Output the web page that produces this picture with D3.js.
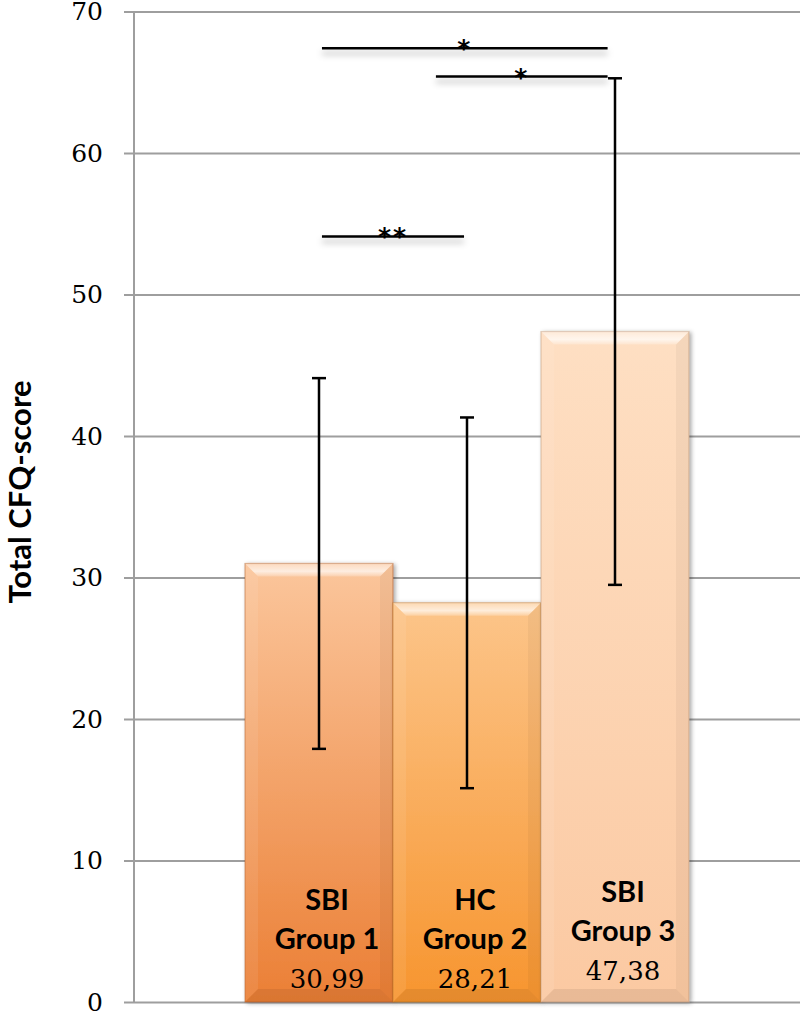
<!DOCTYPE html>
<html>
<head>
<meta charset="utf-8">
<script src="https://cdn.jsdelivr.net/npm/d3@7"></script>
<style>
  body { margin: 0; background: #ffffff; }
  svg { display: block; }
</style>
</head>
<body>
<svg id="chart" width="800" height="1013"></svg>
<script>
// data
const groups = ['SBI Group 1', 'HC Group 2', 'SBI Group 3'];
const labelTop = ['SBI', 'HC', 'SBI'];
const labelBottom = ['Group 1', 'Group 2', 'Group 3'];
const means = [30.99, 28.21, 47.38];
const sds = [13.1, 13.1, 17.9];
const yTicks = [0, 10, 20, 30, 40, 50, 60, 70];
// significance brackets: from / to in bar-index units, level, stars
const sigFrom = [0.02, 0.79, 0.02];
const sigTo = [1.95, 1.95, 0.98];
const sigLevel = [67.4, 65.4, 54.1];
const sigText = ['*', '*', '**'];

const width = 800;
const colors = [
  { top: '#fbc69c', bottom: '#eb7f35' },
  { top: '#fcc58a', bottom: '#f7952f' },
  { top: '#fedfc3', bottom: '#fbc9a2' },
];

const svg = d3.select('#chart');
const defs = svg.append('defs');

const y = d3.scaleLinear().domain([0, 70]).range([1002, 11.5]);
const x = d3.scaleBand().domain(groups).range([245, 689]).padding(0);
const xi = d3.scaleLinear().domain([0, 2]).range([x(groups[0]) + x.bandwidth() / 2, x(groups[2]) + x.bandwidth() / 2]);

colors.forEach((c, i) => {
  const g = defs.append('linearGradient')
    .attr('id', `grad${i}`)
    .attr('x1', 0).attr('y1', 0).attr('x2', 0).attr('y2', 1);
  g.append('stop').attr('offset', '0%').attr('stop-color', c.top);
  g.append('stop').attr('offset', '100%').attr('stop-color', c.bottom);
});

const topBevel = defs.append('linearGradient')
  .attr('id', 'topBevel')
  .attr('x1', 0).attr('y1', 0).attr('x2', 0).attr('y2', 1);
topBevel.append('stop').attr('offset', '0%').attr('stop-color', '#fff').attr('stop-opacity', 0.35);
topBevel.append('stop').attr('offset', '60%').attr('stop-color', '#fff').attr('stop-opacity', 0.7);
topBevel.append('stop').attr('offset', '100%').attr('stop-color', '#fff').attr('stop-opacity', 0.2);

const barShadow = defs.append('filter').attr('id', 'barShadow')
  .attr('x', '-10%').attr('y', '-10%').attr('width', '130%').attr('height', '130%');
barShadow.append('feDropShadow')
  .attr('dx', 2).attr('dy', 1).attr('stdDeviation', 2)
  .attr('flood-color', '#000').attr('flood-opacity', 0.35);

// a horizontal line has no height, so the shadow filter works in user space
const lineShadow = defs.append('filter').attr('id', 'lineShadow')
  .attr('filterUnits', 'userSpaceOnUse')
  .attr('x', 0).attr('y', 0).attr('width', 800).attr('height', 1013);
lineShadow.append('feDropShadow')
  .attr('dx', 0).attr('dy', 5).attr('stdDeviation', 3)
  .attr('flood-color', '#000').attr('flood-opacity', 0.3);

// gridlines + tick labels
const yAxis = svg.append('g')
  .attr('class', 'yAxis')
  .attr('transform', `translate(${width},0)`)
  .call(d3.axisLeft(y).tickValues(yTicks).tickSize(width - 124).tickPadding(21));
yAxis.select('.domain').remove();
yAxis.selectAll('.tick line')
  .attr('stroke', '#9e9e9e')
  .attr('stroke-width', 2);
yAxis.selectAll('.tick text')
  .attr('fill', '#000')
  .style('font-family', '"DejaVu Serif", serif')
  .style('font-size', '25px');

svg.append('line')
  .attr('x1', 134).attr('x2', 134)
  .attr('y1', y(70)).attr('y2', y(0))
  .attr('stroke', '#9e9e9e')
  .attr('stroke-width', 2);

svg.append('text')
  .attr('transform', 'translate(31,492) rotate(-90)')
  .attr('text-anchor', 'middle')
  .style('font-family', 'Lato, "Open Sans", sans-serif')
  .style('font-weight', 'bold')
  .style('font-size', '31px')
  .text('Total CFQ-score');

// bars with bevel
const bev = 13;
const bars = svg.append('g').selectAll('g.bar')
  .data(groups)
  .join('g')
  .attr('class', 'bar');

bars.each(function (d, i) {
  const g = d3.select(this);
  const x0 = x(d);
  const x1 = x0 + x.bandwidth();
  const y0 = y(means[i]);
  const y1 = y(0);
  g.append('rect')
    .attr('x', x0).attr('y', y0)
    .attr('width', x.bandwidth()).attr('height', y1 - y0)
    .attr('fill', `url(#grad${i})`)
    .attr('stroke', d3.color(colors[i].bottom).darker(0.8))
    .attr('stroke-opacity', 0.5)
    .attr('stroke-width', 1.2)
    .attr('filter', 'url(#barShadow)');
  // top bevel
  g.append('path')
    .attr('d', `M${x0},${y0}L${x1},${y0}L${x1 - bev},${y0 + bev}L${x0 + bev},${y0 + bev}Z`)
    .attr('fill', 'url(#topBevel)');
  // side bevels
  g.append('path')
    .attr('d', `M${x0},${y0}L${x0 + bev},${y0 + bev}L${x0 + bev},${y1 - bev}L${x0},${y1}Z`)
    .attr('fill', '#fff').attr('fill-opacity', 0.08);
  g.append('path')
    .attr('d', `M${x1},${y0}L${x1 - bev},${y0 + bev}L${x1 - bev},${y1 - bev}L${x1},${y1}Z`)
    .attr('fill', '#000').attr('fill-opacity', 0.04);
  // bottom bevel
  g.append('path')
    .attr('d', `M${x0},${y1}L${x0 + bev},${y1 - bev}L${x1 - bev},${y1 - bev}L${x1},${y1}Z`)
    .attr('fill', '#000').attr('fill-opacity', 0.07);
});

// labels inside bars
const labels = svg.append('g').selectAll('g.lab')
  .data(groups)
  .join('g')
  .attr('class', 'lab')
  .attr('transform', (d, i) => `translate(${x(d) + x.bandwidth() / 2 + 8},${y(0) - (i === 2 ? 22 : 14)})`);

labels.append('text')
  .attr('y', -78)
  .attr('text-anchor', 'middle')
  .style('font-family', 'Lato, "Open Sans", sans-serif')
  .style('font-weight', 'bold')
  .style('font-size', '29px')
  .text((d, i) => labelTop[i]);
labels.append('text')
  .attr('y', -39)
  .attr('text-anchor', 'middle')
  .style('font-family', 'Lato, "Open Sans", sans-serif')
  .style('font-weight', 'bold')
  .style('font-size', '29px')
  .text((d, i) => labelBottom[i]);
labels.append('text')
  .attr('y', 0)
  .attr('text-anchor', 'middle')
  .style('font-family', '"DejaVu Serif", serif')
  .style('font-size', '26px')
  .text((d, i) => means[i].toFixed(2).replace('.', ','));

// error bars
const err = svg.append('g').selectAll('g.err')
  .data(groups)
  .join('g')
  .attr('class', 'err')
  .attr('stroke', '#000')
  .attr('stroke-width', 2.5);
const cx = (d) => x(d) + x.bandwidth() / 2;
err.append('line')
  .attr('x1', cx).attr('x2', cx)
  .attr('y1', (d, i) => y(means[i] + sds[i]))
  .attr('y2', (d, i) => y(means[i] - sds[i]));
err.append('line')
  .attr('x1', (d) => cx(d) - 7).attr('x2', (d) => cx(d) + 7)
  .attr('y1', (d, i) => y(means[i] + sds[i]))
  .attr('y2', (d, i) => y(means[i] + sds[i]));
err.append('line')
  .attr('x1', (d) => cx(d) - 7).attr('x2', (d) => cx(d) + 7)
  .attr('y1', (d, i) => y(means[i] - sds[i]))
  .attr('y2', (d, i) => y(means[i] - sds[i]));

// significance brackets
const sig = svg.append('g').selectAll('g.sig')
  .data(sigLevel)
  .join('g')
  .attr('class', 'sig');
sig.append('line')
  .attr('x1', (d, i) => xi(sigFrom[i]))
  .attr('x2', (d, i) => xi(sigTo[i]))
  .attr('y1', (d) => y(d))
  .attr('y2', (d) => y(d))
  .attr('stroke', '#000')
  .attr('stroke-width', 2.5)
  .attr('filter', 'url(#lineShadow)');
sig.append('text')
  .attr('x', (d, i) => (xi(sigFrom[i]) + xi(sigTo[i])) / 2)
  .attr('y', (d) => y(d) + 9)
  .attr('text-anchor', 'middle')
  .attr('fill', '#000')
  .style('font-family', '"DejaVu Sans", sans-serif')
  .style('font-weight', 'bold')
  .style('font-size', '25px')
  .style('letter-spacing', '2px')
  .text((d, i) => sigText[i]);
</script>
</body>
</html>
